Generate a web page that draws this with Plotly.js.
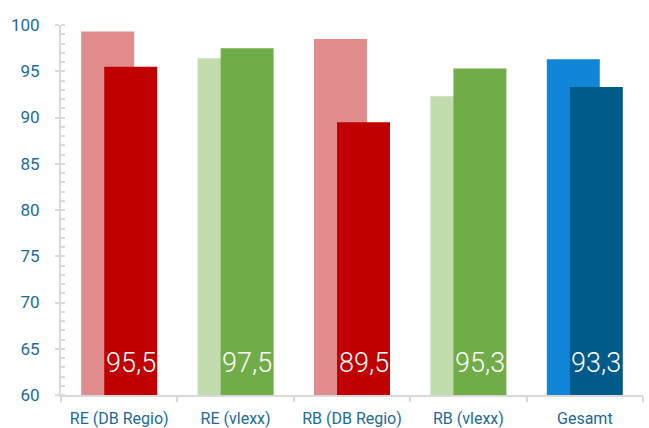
<!DOCTYPE html>
<html><head><meta charset="utf-8">
<script src="https://cdn.plot.ly/plotly-3.0.1.min.js"></script>
<style>html,body{margin:0;padding:0;background:#fff}#c{width:649px;height:428px}</style>
</head><body><div id="c"></div>
<script>
var categories = ["RE (DB Regio)", "RE (vlexx)", "RB (DB Regio)", "RB (vlexx)", "Gesamt"];
var backValues = [99.3, 96.4, 98.5, 92.3, 96.3];
var frontValues = [95.5, 97.5, 89.5, 95.3, 93.3];
var frontLabels = ["95,5", "97,5", "89,5", "95,3", "93,3"];
var backColors = ["#e08c8c", "#c2dcae", "#e08c8c", "#c2dcae", "#1186d8"];
var frontColors = ["#c00000", "#70ac47", "#c00000", "#70ac47", "#005a8a"];

var W = 0.455, SH = 0.099;
var idx = categories.map(function(_, i){ return i; });

var traces = [
  {type:"bar", x:categories, y:backValues.map(function(v){return v-60;}), base:60,
   width:W, offset:-W/2-SH, marker:{color:backColors}, hoverinfo:"skip"},
  {type:"bar", x:categories, y:frontValues.map(function(v){return v-60;}), base:60,
   width:W, offset:-W/2+SH, marker:{color:frontColors}, hoverinfo:"skip"}
];

var annotations = idx.map(function(i){
  return {x:i+SH, y:60, xref:"x", yref:"y", text:frontLabels[i], showarrow:false,
    yanchor:"bottom", yshift:14, font:{family:"Roboto, sans-serif", size:27, weight:300, color:"#ffffff"}};
});

var layout = {
  width:649, height:428,
  margin:{l:61, r:6, t:25, b:33},
  paper_bgcolor:"#fff", plot_bgcolor:"#fff",
  barmode:"overlay", showlegend:false,
  font:{family:"Roboto, sans-serif", color:"#1a6a9c"},
  xaxis:{type:"category", range:[-0.5,4.5], tickson:"boundaries", ticks:"outside", ticklen:5,
    tickcolor:"#d9d9d9", tickwidth:2, showline:true, linecolor:"#d9d9d9", linewidth:2,
    showgrid:false, zeroline:false, ticklabelstandoff:8,
    tickfont:{size:16, color:"#1a6a9c"}, fixedrange:true},
  yaxis:{range:[60,100], tick0:60, dtick:5, ticks:"outside", ticklen:4, tickcolor:"#d9d9d9", tickwidth:2,
    showline:true, linecolor:"#d9d9d9", linewidth:2, showgrid:false, zeroline:false,
    minor:{dtick:1, ticks:"inside", ticklen:4, tickcolor:"#d9d9d9", tickwidth:2},
    ticklabelstandoff:12,
    tickfont:{size:17, color:"#1a6a9c"}, fixedrange:true},
  annotations:annotations
};
Plotly.newPlot("c", traces, layout, {displayModeBar:false, staticPlot:true});
</script></body></html>
